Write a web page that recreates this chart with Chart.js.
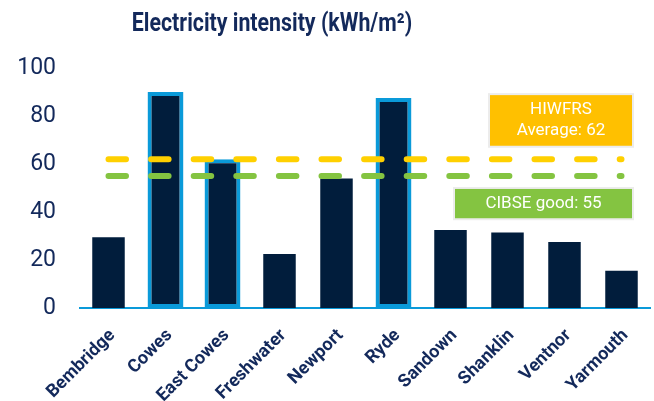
<!DOCTYPE html>
<html>
<head>
<meta charset="utf-8">
<script src="https://cdn.jsdelivr.net/npm/chart.js@4/dist/chart.umd.min.js"></script>
<style>
    html, body { margin: 0; padding: 0; background: #fff; }
    #grafico { width: 654px; height: 401px; }
</style>
</head>
<body>
<div id="grafico"><canvas id="lienzo" width="654" height="401"></canvas></div>
<script>
const estaciones = ["Bembridge", "Cowes", "East Cowes", "Freshwater", "Newport", "Ryde", "Sandown", "Shanklin", "Ventnor", "Yarmouth"];
const intensidad = [29.5, 90, 62, 22.5, 54, 87.5, 32.5, 31.5, 27.5, 15.5];
const destacadas = ["Cowes", "East Cowes", "Ryde"];
const promedioHiwfrs = 62;
const cibseBueno = 55;
const marcasY = [0, 20, 40, 60, 80, 100];

const AZUL_OSCURO = "#011d3c";
const AZUL_TEXTO = "#13295b";
const AZUL_CLARO = "#0a9ad9";
const AMARILLO = "#ffd000";
const NARANJA = "#ffc000";
const VERDE = "#84c441";

// barras normales y barras con borde van en datasets separados (no agrupados)
const normales = intensidad.map((v, i) => destacadas.includes(estaciones[i]) ? null : v);
const resaltadas = intensidad.map((v, i) => destacadas.includes(estaciones[i]) ? v : null);

function lineaReferencia(valor, color) {
    return {
        type: "line",
        data: estaciones.map(() => valor),
        borderColor: color,
        borderWidth: 6,
        borderDash: [17.5, 25.1],
        borderCapStyle: "round",
        pointRadius: 0,
        fill: false,
        order: 0
    };
}

function caja(ctx, x, y, w, h, fondo, lineas, altoLinea) {
    ctx.save();
    ctx.fillStyle = "#ececec";
    ctx.fillRect(x - 2, y - 2, w + 4, h + 4);
    ctx.fillStyle = fondo;
    ctx.fillRect(x, y, w, h);
    ctx.fillStyle = "#ffffff";
    ctx.font = "17px Roboto";
    ctx.textAlign = "center";
    ctx.textBaseline = "middle";
    const inicio = y + h / 2 - (lineas.length - 1) * altoLinea / 2;
    lineas.forEach((t, i) => ctx.fillText(t, x + w / 2, inicio + i * altoLinea));
    ctx.restore();
}

const textos = {
    id: "textos",
    afterDraw(chart) {
        const ctx = chart.ctx;
        const y = chart.scales.y;

        // titulo
        ctx.save();
        ctx.fillStyle = AZUL_TEXTO;
        ctx.font = "bold 26px Roboto";
        ctx.textAlign = "center";
        ctx.textBaseline = "alphabetic";
        ctx.translate(272, 31);
        ctx.scale(0.82, 1);
        ctx.fillText("Electricity intensity (kWh/m²)", 0, 0);
        ctx.restore();

        const der = chart.chartArea.right - 18;
        const arribaH = y.getPixelForValue(88.7);
        const abajoH = y.getPixelForValue(67.6);
        caja(ctx, der - 142, arribaH, 142, abajoH - arribaH, NARANJA, ["HIWFRS", "Average: " + promedioHiwfrs], 21);

        const arribaC = y.getPixelForValue(49.6);
        const abajoC = y.getPixelForValue(37.4);
        caja(ctx, der - 177, arribaC, 177, abajoC - arribaC, VERDE, ["CIBSE good: " + cibseBueno], 21);
    }
};

new Chart(document.getElementById("lienzo"), {
    type: "bar",
    data: {
        labels: estaciones,
        datasets: [
            lineaReferencia(promedioHiwfrs, AMARILLO),
            lineaReferencia(cibseBueno, VERDE),
            {
                data: normales,
                backgroundColor: AZUL_OSCURO,
                barPercentage: 0.57,
                categoryPercentage: 1,
                grouped: false,
                order: 1
            },
            {
                data: resaltadas,
                backgroundColor: AZUL_OSCURO,
                borderColor: AZUL_CLARO,
                borderWidth: 4,
                borderSkipped: false,
                barPercentage: 0.63,
                categoryPercentage: 1,
                grouped: false,
                order: 1
            }
        ]
    },
    options: {
        responsive: false,
        animation: false,
        devicePixelRatio: 1,
        layout: { padding: { top: 68, right: 4, left: 0, bottom: 0 } },
        plugins: {
            legend: { display: false },
            tooltip: { enabled: false }
        },
        scales: {
            x: {
                grid: { display: false },
                border: { display: true, color: AZUL_CLARO, width: 2 },
                ticks: {
                    color: AZUL_TEXTO,
                    font: { family: "Roboto", size: 18, weight: "bold" },
                    minRotation: 45,
                    maxRotation: 45,
                    autoSkip: false,
                    padding: 9,
                    labelOffset: 4
                },
                afterFit(scale) { scale.height = 93; }
            },
            y: {
                min: 0,
                max: 100,
                afterBuildTicks(scale) { scale.ticks = marcasY.map(v => ({ value: v })); },
                grid: { display: false, drawTicks: false },
                border: { display: false },
                ticks: {
                    color: AZUL_TEXTO,
                    font: { family: "Roboto", size: 23 },
                    padding: 24
                },
                afterFit(scale) { scale.width = 80; }
            }
        }
    },
    plugins: [textos]
});
</script>
</body>
</html>
